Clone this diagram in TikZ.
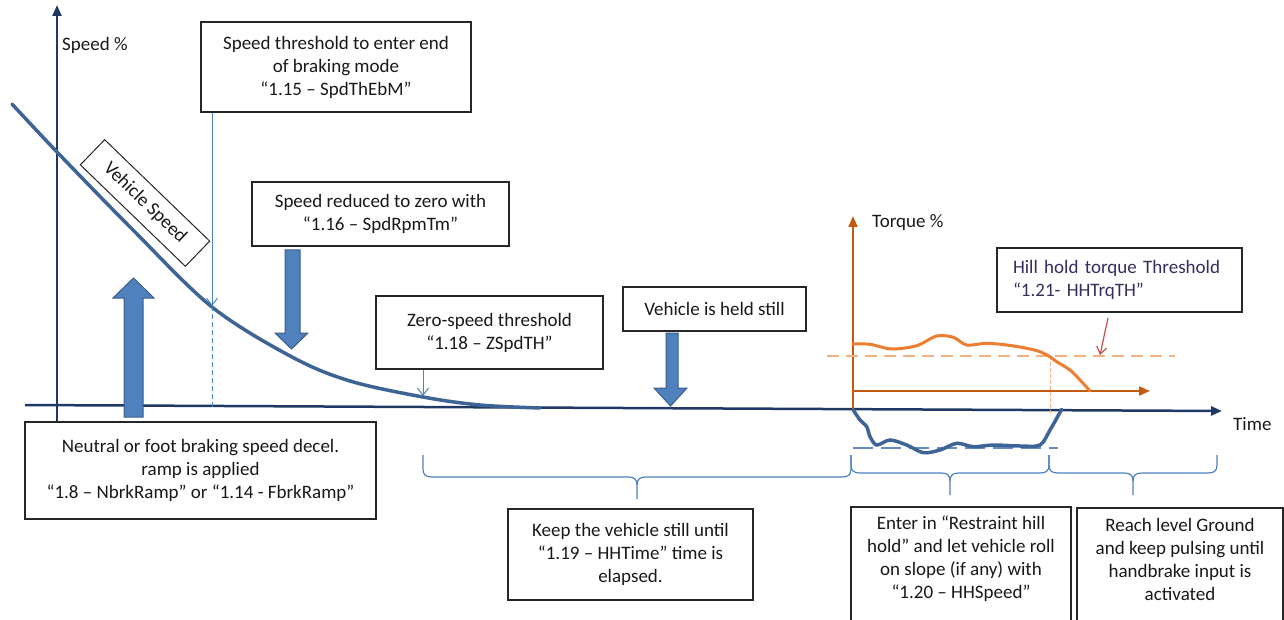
\documentclass[tikz,border=0pt]{standalone}
\usepackage{fontspec}
\setmainfont{Carlito}
\usetikzlibrary{arrows.meta}
\definecolor{axisnavy}{RGB}{31,56,100}
\definecolor{curveblue}{RGB}{62,100,150}
\definecolor{accblue}{RGB}{79,129,189}
\definecolor{accbluedark}{RGB}{56,93,138}
\definecolor{torqax}{RGB}{197,90,17}
\definecolor{torqcurve}{RGB}{237,125,49}
\definecolor{torqdash}{RGB}{244,177,131}
\definecolor{redarrow}{RGB}{192,80,77}
\definecolor{hhtext}{RGB}{55,45,95}
\definecolor{pulsedash}{RGB}{100,140,195}
\newcommand{\hbr}[6]{%
  \draw[bracestyle] (#1,#4) -- (#1,#5-8) .. controls (#1,#5-2) and (#1+3,#5) .. (#1+9,#5)
    -- (#2-9,#5) .. controls (#2-3,#5) and (#2,#5+2) .. (#2,#5+8) -- (#2,#6);
  \draw[bracestyle] (#2,#5+8) .. controls (#2,#5+2) and (#2+3,#5) .. (#2+9,#5)
    -- (#3-9,#5) .. controls (#3-3,#5) and (#3,#5-2) .. (#3,#5-8) -- (#3,#4);}
\tikzset{
  infobox/.style={draw=black!85, line width=1.2pt, fill=white, align=center, inner sep=0pt, text=black!90},
  plainlabel/.style={anchor=west, inner sep=0pt, text=black!90},
  axisline/.style={axisnavy, line width=2.2pt, -{Triangle[length=11pt,width=9pt]}},
  torqaxis/.style={torqax, line width=2pt, -{Triangle[length=11pt,width=9pt]}},
  thinarrow/.style={accblue, line width=1pt, -{Straight Barb[length=7pt,width=11pt]}},
  blockarrow/.style={fill=accblue, draw=accbluedark, line width=1pt, line join=miter},
  bracestyle/.style={accblue, line width=1.2pt},
}
\begin{document}
\begin{tikzpicture}[x=1pt,y=-1pt,font=\fontsize{19}{23}\selectfont]
\useasboundingbox (0,0) rectangle (1284,620);
\clip (0,0) rectangle (1284,620);

% axes
\coordinate (sa0) at (57,422);
\coordinate (sa1) at (57,5);
\coordinate (ta0) at (25,405);
\coordinate (ta1) at (1222,411);
\draw[axisline] (sa0) -- (sa1);
\draw[axisline, line width=2.5pt] (ta0) -- (ta1);

\node[plainlabel] (spdlabel) at (62,45) {Speed \%};
\node[plainlabel] (timelabel) at (1233,424) {Time};

% vehicle speed curve
\draw[curveblue, line width=3.5pt, line cap=round] plot[smooth, tension=0.55] coordinates
  {(12,104) (57,152) (133,230) (212,307) (292,357) (350,381) (423,397) (480,405) (540,408)};

\node[infobox, line width=1pt, rotate=-44, minimum width=146pt, minimum height=35pt] (vs) at (145,203) {Vehicle Speed};

% boxes
\node[infobox, minimum width=270pt, minimum height=90pt] (b1) at (336,67)
  {Speed threshold to enter end\\of braking mode\\“1.15 – SpdThEbM”};
\node[infobox, minimum width=257pt, minimum height=64pt] (b2) at (380.5,214)
  {Speed reduced to zero with\\“1.16 – SpdRpmTm”};
\node[infobox, minimum width=227pt, minimum height=73pt] (b3) at (489.5,332.5)
  {Zero-speed threshold\\“1.18 – ZSpdTH”};
\node[infobox, minimum width=183pt, minimum height=44pt] (b4) at (714.5,309)
  {Vehicle is held still};
\node[infobox, align=left, text=hhtext, text width=213pt, inner xsep=16pt, minimum height=64pt] (b5) at (1119.5,280)
  {Hill hold torque Threshold\\“1.21- HHTrqTH”};
\node[infobox, minimum width=351pt, minimum height=97pt] (b6) at (200.5,470.5)
  {Neutral or foot braking speed decel.\\ramp is applied\\“1.8 – NbrkRamp” or “1.14 - FbrkRamp”};
\node[infobox, minimum width=245pt, minimum height=91pt] (b7) at (630.5,554.5)
  {Keep the vehicle still until\\“1.19 – HHTime” time is\\elapsed.};
\draw[draw=black!85, line width=1.2pt, fill=white] (851,507) rectangle (1071,640);
\node[align=center, inner sep=0pt, text=black!90] (b8) at (961,559)
  {Enter in “Restraint hill\\hold” and let vehicle roll\\on slope (if any) with\\“1.20 – HHSpeed”};
\draw[draw=black!85, line width=1.2pt, fill=white] (1077,508) rectangle (1283,640);
\node[align=center, inner sep=0pt, text=black!90] (b9) at (1180,559)
  {Reach level Ground\\and keep pulsing until\\handbrake input is\\activated};

% thin arrows to curve
\coordinate (p1) at (212,306);
\coordinate (p1b) at (212,407);
\draw[thinarrow] (b1.south -| p1) -- (p1);
\draw[accblue, line width=1pt, dash pattern=on 5pt off 3pt] (p1) -- (p1b);
\coordinate (p3) at (423,396);
\draw[thinarrow] (b3.south -| p3) -- (p3);

% block arrows
\draw[blockarrow] (124,417) -- (124,298) -- (113,298) -- (133.5,278) -- (154,298) -- (143,298) -- (143,417) -- cycle;
\draw[blockarrow] (285,250) -- (285,333) -- (275,333) -- (291.5,349) -- (308,333) -- (300,333) -- (300,250) -- cycle;
\draw[blockarrow] (666,333) -- (666,388) -- (654,388) -- (670.5,406) -- (687,388) -- (678,388) -- (678,333) -- cycle;

% torque diagram
\coordinate (qa0) at (853,410);
\coordinate (qa1) at (853,216);
\coordinate (qh0) at (853,391);
\coordinate (qh1) at (1150,391);
\draw[torqaxis] (qa0) -- (qa1);
\draw[torqaxis] (qh0) -- (qh1);
\node[plainlabel] (torqlabel) at (872,223) {Torque \%};
\draw[torqdash, line width=1.8pt, dash pattern=on 12pt off 7pt] (827,356) -- (1175,356);
\draw[torqdash, line width=0.8pt, dash pattern=on 4pt off 2pt] (1050,356) -- (1050,413);
\draw[torqcurve, line width=3pt, line cap=round] plot[smooth, tension=0.5] coordinates
  {(853,344) (870,344.3) (891.7,349) (916.7,345.7) (936.7,336) (953.3,337.3) (966.7,345) (986.7,343.3) (1006.7,345) (1026.7,348.3) (1040,351.7) (1050,356.7) (1056.7,361.7) (1070,370) (1080,380) (1090,391)};

\coordinate (r0) at (1108,318);
\coordinate (r1) at (1100,355);
\draw[redarrow, line width=1.2pt, -{Straight Barb[length=7pt,width=10pt]}] (r0) -- (r1);

% hill hold pulse
\draw[pulsedash, line width=1.5pt, dash pattern=on 20pt off 8pt] (853,448) -- (1058,448);
\draw[curveblue, line width=3.5pt, line cap=round] plot[smooth, tension=0.5] coordinates
  {(853.3,410) (860,420) (866.7,426.7) (870,436.7) (876.7,445) (890,440) (906.7,445) (923.3,452.7) (940,450) (956.7,443.3) (973.3,446.7) (993.3,445) (1020,446) (1040,445) (1050,430) (1061.7,409.3)};

% braces
\hbr{423}{637}{851}{455}{477}{499}
\hbr{851}{950}{1049}{455}{473}{495}
\hbr{1049}{1133}{1217}{455}{473}{495}
\end{tikzpicture}
\end{document}
